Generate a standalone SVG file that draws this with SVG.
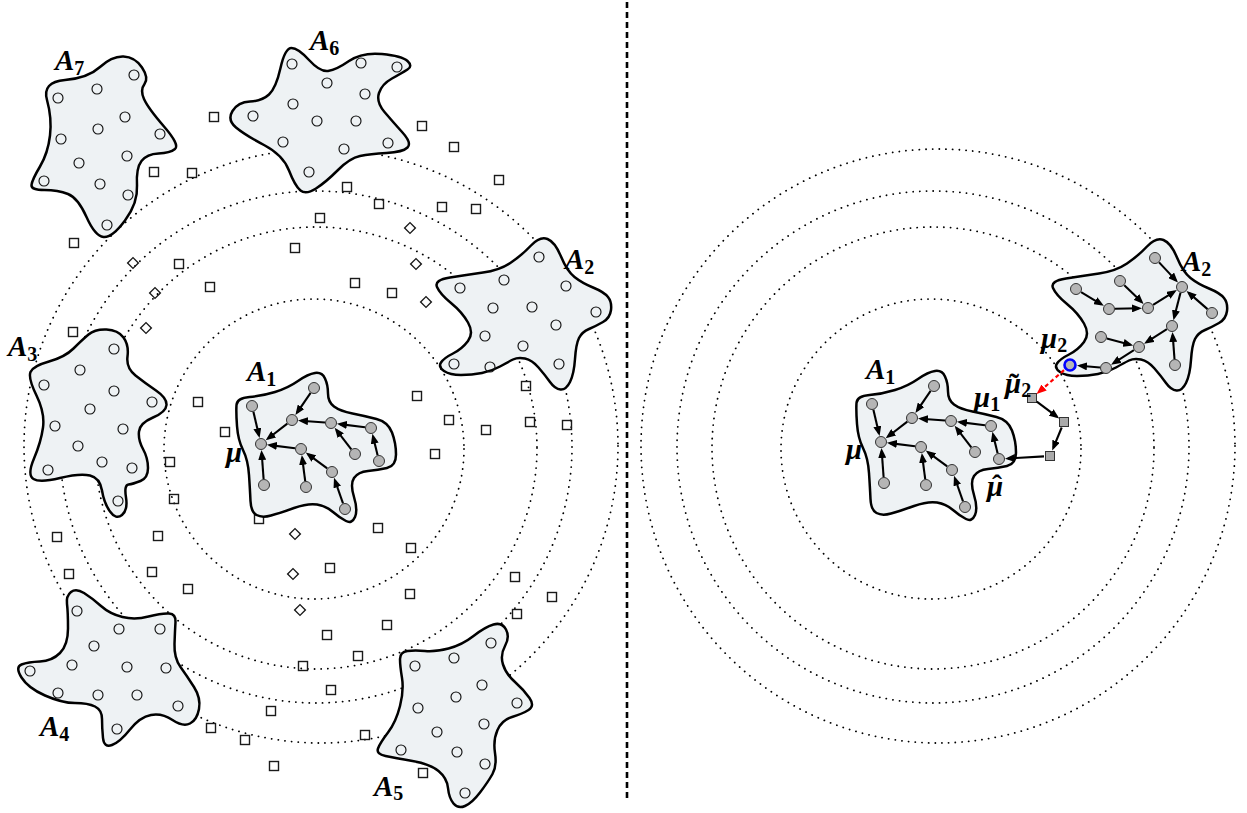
<svg xmlns="http://www.w3.org/2000/svg" xmlns:xlink="http://www.w3.org/1999/xlink" width="1247" height="813" viewBox="0 0 1247 813">
<style>
.blob{fill:#eef2f4;stroke:#000;stroke-width:2.5;stroke-linejoin:round}
.orbit{fill:none;stroke:#000;stroke-width:1.8;stroke-dasharray:0.1 6.6;stroke-linecap:round}
.sq{fill:none;stroke:#1a1a1a;stroke-width:1.4}
.pt{fill:none;stroke:#111;stroke-width:1.15}
.nd{fill:#b5b5b5;stroke:#333;stroke-width:1}
.edge{fill:none;stroke:#000;stroke-width:2.1;marker-end:url(#ah)}
.lbl{font-family:"Liberation Serif",serif;font-style:italic;font-weight:bold;font-size:29px;fill:#000}
.sub{font-style:normal;font-size:20px}
.acc{font-style:normal;font-size:30px}
</style>
<defs>
<marker id="ah" viewBox="0 0 10 8" refX="7" refY="4" markerWidth="10" markerHeight="8" markerUnits="userSpaceOnUse" orient="auto"><path d="M0,0 L10,4 L0,8 z" fill="#000"/></marker>
<marker id="ahr" viewBox="0 0 10 8" refX="7" refY="4" markerWidth="10" markerHeight="8" markerUnits="userSpaceOnUse" orient="auto"><path d="M0,0 L10,4 L0,8 z" fill="#f00"/></marker>
<rect id="sq" class="sq" x="-4.5" y="-4.5" width="9" height="9"/>
<rect id="dm" class="sq" x="-3.8" y="-3.8" width="7.6" height="7.6" transform="rotate(45)"/>
<path id="blobA1" class="blob" d="M 236.5,405 Q 237,398 249.5,397 Q 262,396 275,392 Q 288,388 298,381 Q 308,374 315,373 Q 322,372 325,378.5 Q 328,385 328,393.5 Q 328,402 334,406.5 Q 340,411 352.5,413.5 Q 365,416 376.5,419 Q 388,422 392,432.5 Q 396,443 396,454.5 Q 396,466 387,468 Q 378,470 368,471 Q 358,472 354,478 Q 350,484 354,497 Q 358,510 355,517 Q 352,524 346,521 Q 340,518 333,512 Q 326,506 317,504.5 Q 308,503 294,508 Q 280,513 271,515.5 Q 262,518 256.5,515 Q 251,512 250.5,501 Q 250,490 249,475 Q 248,460 243,450 Q 238,440 237,426 Q 236,412 236.5,405 Z"/>
<path id="blobA2" class="blob" d="M 437,287 Q 434,280 450,277.5 Q 466,275 483,272.5 Q 500,270 511,262.5 Q 522,255 531,245.5 Q 540,236 547.5,239 Q 555,242 561,256.5 Q 567,271 574.5,277 Q 582,283 593,287.5 Q 604,292 608,297 Q 612,302 611,310 Q 610,318 603,322 Q 596,326 589,329 Q 582,332 579,338 Q 576,344 575,359 Q 574,374 570,382 Q 566,390 560.5,389.5 Q 555,389 550,382 Q 545,375 538.5,367.5 Q 532,360 525,358.5 Q 518,357 513,359.5 Q 508,362 500,366.5 Q 492,371 482,373 Q 472,375 461,375 Q 450,375 444,371 Q 438,367 441,362.5 Q 444,358 453,353.5 Q 462,349 468,341 Q 474,333 468,322.5 Q 462,312 451,303 Q 440,294 437,287 Z"/>
<g id="edgesA1">
<line x1="310.6" y1="392.9" x2="297.1" y2="412.6"/>
<line x1="253.4" y1="411.8" x2="258.9" y2="435.2"/>
<line x1="287.3" y1="423.7" x2="268.1" y2="438.5"/>
<line x1="325.0" y1="422.5" x2="301.0" y2="420.7"/>
<line x1="365.0" y1="427.3" x2="339.9" y2="424.1"/>
<line x1="351.3" y1="449.3" x2="336.5" y2="430.1"/>
<line x1="377.6" y1="455.2" x2="373.1" y2="436.7"/>
<line x1="295.0" y1="448.3" x2="269.9" y2="445.1"/>
<line x1="327.2" y1="468.4" x2="308.2" y2="454.4"/>
<line x1="305.2" y1="481.1" x2="302.2" y2="457.9"/>
<line x1="263.6" y1="479.0" x2="261.7" y2="453.0"/>
<line x1="343.0" y1="503.3" x2="335.0" y2="480.5"/>
</g>
<g id="nodesA1">
<circle cx="314" cy="388" r="5.5"/><circle cx="252" cy="406" r="5.5"/><circle cx="292" cy="420" r="5.5"/>
<circle cx="331" cy="423" r="5.5"/><circle cx="371" cy="428" r="5.5"/><circle cx="261" cy="444" r="5.5"/>
<circle cx="301" cy="449" r="5.5"/><circle cx="355" cy="454" r="5.5"/><circle cx="379" cy="461" r="5.5"/>
<circle cx="332" cy="472" r="5.5"/><circle cx="264" cy="485" r="5.5"/><circle cx="306" cy="487" r="5.5"/>
<circle cx="345" cy="509" r="5.5"/>
</g>
</defs>

<g id="orbits-left">
<circle class="orbit" cx="314" cy="449" r="150"/>
<circle class="orbit" cx="316" cy="448" r="221"/>
<circle class="orbit" cx="316" cy="447" r="256"/>
<circle class="orbit" cx="321" cy="446" r="297"/>
</g>
<g id="orbits-right" transform="translate(617,0)">
<circle class="orbit" cx="314" cy="449" r="150"/>
<circle class="orbit" cx="316" cy="448" r="221"/>
<circle class="orbit" cx="316" cy="447" r="256"/>
<circle class="orbit" cx="321" cy="446" r="297"/>
</g>

<line id="divider" x1="627" y1="2" x2="627" y2="800" stroke="#000" stroke-width="2.6" stroke-dasharray="6 4"/>

<g id="samples">
<use href="#sq" x="214" y="117"/><use href="#sq" x="154" y="172"/><use href="#sq" x="192" y="173"/>
<use href="#sq" x="74" y="243"/><use href="#sq" x="347" y="187"/><use href="#sq" x="379" y="204"/>
<use href="#sq" x="320" y="218"/><use href="#sq" x="295" y="248"/><use href="#sq" x="422" y="126"/>
<use href="#sq" x="454" y="147"/><use href="#sq" x="499" y="180"/><use href="#sq" x="442" y="207"/>
<use href="#sq" x="476" y="209"/><use href="#sq" x="179" y="264"/><use href="#sq" x="210" y="287"/>
<use href="#sq" x="355" y="283"/><use href="#sq" x="392" y="293"/><use href="#sq" x="73" y="332"/>
<use href="#sq" x="198" y="402"/><use href="#sq" x="225" y="432"/><use href="#sq" x="170" y="462"/>
<use href="#sq" x="174" y="499"/><use href="#sq" x="158" y="536"/><use href="#sq" x="152" y="572"/>
<use href="#sq" x="188" y="589"/><use href="#sq" x="259" y="519"/><use href="#sq" x="330" y="568"/>
<use href="#sq" x="417" y="396"/><use href="#sq" x="449" y="420"/><use href="#sq" x="486" y="430"/>
<use href="#sq" x="435" y="454"/><use href="#sq" x="526" y="386"/><use href="#sq" x="530" y="422"/>
<use href="#sq" x="567" y="425"/><use href="#sq" x="378" y="528"/><use href="#sq" x="411" y="548"/>
<use href="#sq" x="410" y="594"/><use href="#sq" x="515" y="577"/><use href="#sq" x="552" y="597"/>
<use href="#sq" x="517" y="614"/><use href="#sq" x="387" y="625"/><use href="#sq" x="69" y="574"/>
<use href="#sq" x="57" y="537"/><use href="#sq" x="271" y="711"/><use href="#sq" x="211" y="728"/>
<use href="#sq" x="245" y="740"/><use href="#sq" x="274" y="766"/><use href="#sq" x="365" y="735"/>
<use href="#sq" x="423" y="773"/><use href="#sq" x="327" y="635"/><use href="#sq" x="303" y="666"/>
<use href="#sq" x="331" y="690"/><use href="#sq" x="358" y="656"/>
<use href="#dm" x="410" y="228"/><use href="#dm" x="133" y="263"/><use href="#dm" x="416" y="264"/>
<use href="#dm" x="155" y="293"/><use href="#dm" x="426" y="302"/><use href="#dm" x="146" y="328"/>
<use href="#dm" x="295" y="534"/><use href="#dm" x="293" y="574"/><use href="#dm" x="300" y="610"/>
</g>

<g id="A7">
<path class="blob" d="M 47,100 Q 42,82 65,80 Q 88,78 100,67 Q 112,56 123.5,56.5 Q 135,57 142,67.5 Q 149,78 144.5,84 Q 140,90 144,99 Q 148,108 164,126.5 Q 180,145 175,149 Q 170,153 158.5,153.5 Q 147,154 141.5,161 Q 136,168 137,185.5 Q 138,203 125,220.5 Q 112,238 103.5,237 Q 95,236 86.5,217 Q 78,198 68,194 Q 58,190 44.5,190 Q 31,190 31.5,185 Q 32,180 40,166.5 Q 48,153 50,135.5 Q 52,118 47,100 Z"/>
<g class="pt"><circle cx="58" cy="98" r="5"/><circle cx="97" cy="89" r="5"/><circle cx="134" cy="75" r="5"/><circle cx="125" cy="117" r="5"/><circle cx="98" cy="129" r="5"/><circle cx="61" cy="139" r="5"/><circle cx="160" cy="134" r="5"/><circle cx="127" cy="156" r="5"/><circle cx="79" cy="163" r="5"/><circle cx="100" cy="184" r="5"/><circle cx="44" cy="181" r="5"/><circle cx="128" cy="195" r="5"/><circle cx="107" cy="225" r="5"/></g>
<text class="lbl" x="55" y="70">A<tspan class="sub" dy="5">7</tspan></text>
</g>

<g id="A6">
<path class="blob" d="M 280.5,68 Q 285,48 291.5,48 Q 298,48 309,60 Q 320,72 328,71 Q 336,70 349,61 Q 362,52 382,54 Q 402,56 407.5,61 Q 413,66 407.5,69.5 Q 402,73 392,78.5 Q 382,84 379,93 Q 376,102 384.5,112 Q 393,122 402.5,132.5 Q 412,143 407.5,147.5 Q 403,152 386.5,153 Q 370,154 360,156 Q 350,158 338,170 Q 326,182 316,188.5 Q 306,195 300.5,190.5 Q 295,186 289,170.5 Q 283,155 264,145 Q 245,135 236,127.5 Q 227,120 232.5,111 Q 238,102 250,101.5 Q 262,101 269,94.5 Q 276,88 280.5,68 Z"/>
<g class="pt"><circle cx="292" cy="64" r="5"/><circle cx="361" cy="63" r="5"/><circle cx="397" cy="67" r="5"/><circle cx="327" cy="83" r="5"/><circle cx="365" cy="94" r="5"/><circle cx="293" cy="104" r="5"/><circle cx="253" cy="116" r="5"/><circle cx="317" cy="121" r="5"/><circle cx="356" cy="121" r="5"/><circle cx="283" cy="142" r="5"/><circle cx="344" cy="149" r="5"/><circle cx="388" cy="143" r="5"/><circle cx="309" cy="172" r="5"/></g>
<text class="lbl" x="310" y="50">A<tspan class="sub" dy="5">6</tspan></text>
</g>

<g id="A2-left">
<use href="#blobA2"/>
<g class="pt"><circle cx="539" cy="257" r="5"/><circle cx="460" cy="288" r="5"/><circle cx="504" cy="280" r="5"/><circle cx="566" cy="286" r="5"/><circle cx="493" cy="308" r="5"/><circle cx="532" cy="307" r="5"/><circle cx="596" cy="312" r="5"/><circle cx="556" cy="325" r="5"/><circle cx="485" cy="336" r="5"/><circle cx="523" cy="346" r="5"/><circle cx="454" cy="364" r="5"/><circle cx="490" cy="367" r="5"/><circle cx="559" cy="364" r="5"/></g>
<text class="lbl" x="565" y="269">A<tspan class="sub" dy="5">2</tspan></text>
</g>

<g id="A3">
<path class="blob" d="M 88.5,334.5 Q 95,329 106.5,329.5 Q 118,330 123.5,337.5 Q 129,345 127.5,356.5 Q 126,368 135.5,375.5 Q 145,383 156,390.5 Q 167,398 166.5,405 Q 166,412 153,417.5 Q 140,423 139,431.5 Q 138,440 143,449 Q 148,458 148,468 Q 148,478 140.5,481 Q 133,484 128.5,484.5 Q 124,485 126,497.5 Q 128,510 122,515 Q 116,520 110,511.5 Q 104,503 102,490.5 Q 100,478 90,475.5 Q 80,473 60,478 Q 40,483 33.5,479 Q 27,475 34,458.5 Q 41,442 43,427.5 Q 45,413 36.5,395.5 Q 28,378 30.5,372 Q 33,366 49,361.5 Q 65,357 73.5,348.5 Q 82,340 88.5,334.5 Z"/>
<g class="pt"><circle cx="114" cy="349" r="5"/><circle cx="80" cy="370" r="5"/><circle cx="44" cy="385" r="5"/><circle cx="114" cy="391" r="5"/><circle cx="152" cy="402" r="5"/><circle cx="90" cy="409" r="5"/><circle cx="55" cy="426" r="5"/><circle cx="123" cy="429" r="5"/><circle cx="78" cy="446" r="5"/><circle cx="102" cy="462" r="5"/><circle cx="132" cy="468" r="5"/><circle cx="48" cy="470" r="5"/><circle cx="118" cy="501" r="5"/></g>
<text class="lbl" x="8" y="356">A<tspan class="sub" dy="5">3</tspan></text>
</g>

<g id="A4">
<path class="blob" d="M 67,604 Q 66,596 71,592 Q 76,588 84,593 Q 92,598 101,606 Q 110,614 122.5,617 Q 135,620 148.5,616.5 Q 162,613 169,613.5 Q 176,614 175.5,622 Q 175,630 174.5,644 Q 174,658 180.5,667 Q 187,676 194,687 Q 201,698 199,709 Q 197,720 190,723.5 Q 183,727 172.5,720 Q 162,713 151,715 Q 140,717 130,729.5 Q 120,742 112,745 Q 104,748 103,738 Q 102,728 102,719 Q 102,710 95,706.5 Q 88,703 75,703 Q 62,703 45,695.5 Q 28,688 21.5,677.5 Q 15,667 21.5,664.5 Q 28,662 40,661.5 Q 52,661 60,653 Q 68,645 68,628.5 Q 68,612 67,604 Z"/>
<g class="pt"><circle cx="77" cy="611" r="5"/><circle cx="119" cy="629" r="5"/><circle cx="160" cy="629" r="5"/><circle cx="94" cy="646" r="5"/><circle cx="30" cy="671" r="5"/><circle cx="72" cy="665" r="5"/><circle cx="127" cy="667" r="5"/><circle cx="166" cy="668" r="5"/><circle cx="58" cy="693" r="5"/><circle cx="98" cy="695" r="5"/><circle cx="137" cy="695" r="5"/><circle cx="178" cy="706" r="5"/><circle cx="117" cy="729" r="5"/></g>
<text class="lbl" x="40" y="736">A<tspan class="sub" dy="5">4</tspan></text>
</g>

<g id="A5">
<path class="blob" d="M 400,659 Q 400,652 407.5,651 Q 415,650 425,651 Q 435,652 448.5,648.5 Q 462,645 473.5,636 Q 485,627 493.5,624.5 Q 502,622 506,629.5 Q 510,637 505,646 Q 500,655 503,664.5 Q 506,674 515,682 Q 524,690 529.5,698 Q 535,706 528.5,710 Q 522,714 512,717 Q 502,720 497.5,730 Q 493,740 495,753 Q 497,766 492.5,774 Q 488,782 480,792.5 Q 472,803 465,806 Q 458,809 453.5,803.5 Q 449,798 448,788 Q 447,778 438.5,771 Q 430,764 412.5,761 Q 395,758 385.5,756 Q 376,754 378,748.5 Q 380,743 388,732.5 Q 396,722 400,706 Q 404,690 402,678 Q 400,666 400,659 Z"/>
<g class="pt"><circle cx="491" cy="643" r="5"/><circle cx="454" cy="658" r="5"/><circle cx="415" cy="666" r="5"/><circle cx="482" cy="685" r="5"/><circle cx="456" cy="697" r="5"/><circle cx="517" cy="703" r="5"/><circle cx="418" cy="708" r="5"/><circle cx="484" cy="724" r="5"/><circle cx="437" cy="732" r="5"/><circle cx="401" cy="750" r="5"/><circle cx="457" cy="752" r="5"/><circle cx="485" cy="764" r="5"/><circle cx="465" cy="793" r="5"/></g>
<text class="lbl" x="374" y="796">A<tspan class="sub" dy="4">5</tspan></text>
</g>

<g id="A1-left">
<use href="#blobA1"/>
</g>

<g id="A1-right">
<use href="#blobA1" transform="translate(620,-2)"/>
</g>

<g id="A2-right">
<use href="#blobA2" transform="translate(616,1)"/>
</g>

<g id="route-squares">
<rect x="1027.5" y="393.5" width="9" height="9" fill="#aaa" stroke="#333" stroke-width="1"/>
<rect x="1059.5" y="417.5" width="9" height="9" fill="#aaa" stroke="#333" stroke-width="1"/>
<rect x="1045.5" y="451.5" width="9" height="9" fill="#aaa" stroke="#333" stroke-width="1"/>
</g>

<g id="connectors">
<use href="#edgesA1" class="edge"/>
<use href="#edgesA1" class="edge" transform="translate(620,-2)"/>
<g class="edge" transform="translate(616,1)">
<line x1="465.1" y1="291.1" x2="485.3" y2="303.3"/>
<line x1="499.0" y1="307.8" x2="523.0" y2="307.2"/>
<line x1="508.3" y1="284.2" x2="525.5" y2="300.8"/>
<line x1="537.1" y1="303.8" x2="558.3" y2="290.7"/>
<line x1="543.1" y1="261.4" x2="559.9" y2="279.4"/>
<line x1="591.5" y1="308.1" x2="572.8" y2="291.9"/>
<line x1="564.5" y1="291.8" x2="558.2" y2="316.3"/>
<line x1="558.5" y1="358.0" x2="556.7" y2="334.0"/>
<line x1="550.9" y1="328.2" x2="530.6" y2="341.2"/>
<line x1="490.8" y1="337.5" x2="514.3" y2="343.7"/>
<line x1="517.9" y1="349.2" x2="497.6" y2="362.2"/>
<line x1="484.0" y1="366.5" x2="464.0" y2="364.8"/>
</g>
<g class="edge">
<line x1="1036.8" y1="401.6" x2="1056.8" y2="416.6"/>
<line x1="1061.7" y1="427.5" x2="1053.4" y2="447.7"/>
<line x1="1044.0" y1="456.4" x2="1008.0" y2="458.5"/>
</g>
<line x1="1064.0" y1="370.2" x2="1038.8" y2="392.1" stroke="#f00" stroke-width="2.2" stroke-dasharray="4 3" marker-end="url(#ahr)"/>
</g>

<g id="A1-left-points" class="nd"><use href="#nodesA1"/></g>
<g id="A1-right-points" class="nd"><use href="#nodesA1" transform="translate(620,-2)"/></g>
<g id="A2-right-points" class="nd" transform="translate(616,1)">
<circle cx="539" cy="257" r="5.5"/><circle cx="460" cy="288" r="5.5"/><circle cx="504" cy="280" r="5.5"/><circle cx="566" cy="286" r="5.5"/><circle cx="493" cy="308" r="5.5"/><circle cx="532" cy="307" r="5.5"/><circle cx="596" cy="312" r="5.5"/><circle cx="556" cy="325" r="5.5"/><circle cx="485" cy="336" r="5.5"/><circle cx="523" cy="346" r="5.5"/><circle cx="490" cy="367" r="5.5"/><circle cx="559" cy="364" r="5.5"/>
<circle cx="454" cy="364" r="5.5" stroke="#00f" stroke-width="2.6"/>
</g>

<g id="labels">
<text class="lbl" x="247" y="381">A<tspan class="sub" dy="5">1</tspan></text>
<text class="lbl" x="226" y="462">μ</text>
<text class="lbl" x="866" y="379">A<tspan class="sub" dy="5">1</tspan></text>
<text class="lbl" x="846" y="459">μ</text>
<text class="lbl" x="974" y="407">μ<tspan class="sub" dy="4">1</tspan></text>
<text class="lbl" x="987" y="496">μ<tspan class="acc" x="992" y="495">ˆ</tspan></text>
<text class="lbl" x="1005" y="393">μ<tspan class="sub" dy="4">2</tspan><tspan class="acc" x="1009" y="394">˜</tspan></text>
<text class="lbl" x="1182" y="271">A<tspan class="sub" dy="5">2</tspan></text>
<text class="lbl" x="1041" y="348">μ<tspan class="sub" dy="4">2</tspan></text>
</g>
</svg>
